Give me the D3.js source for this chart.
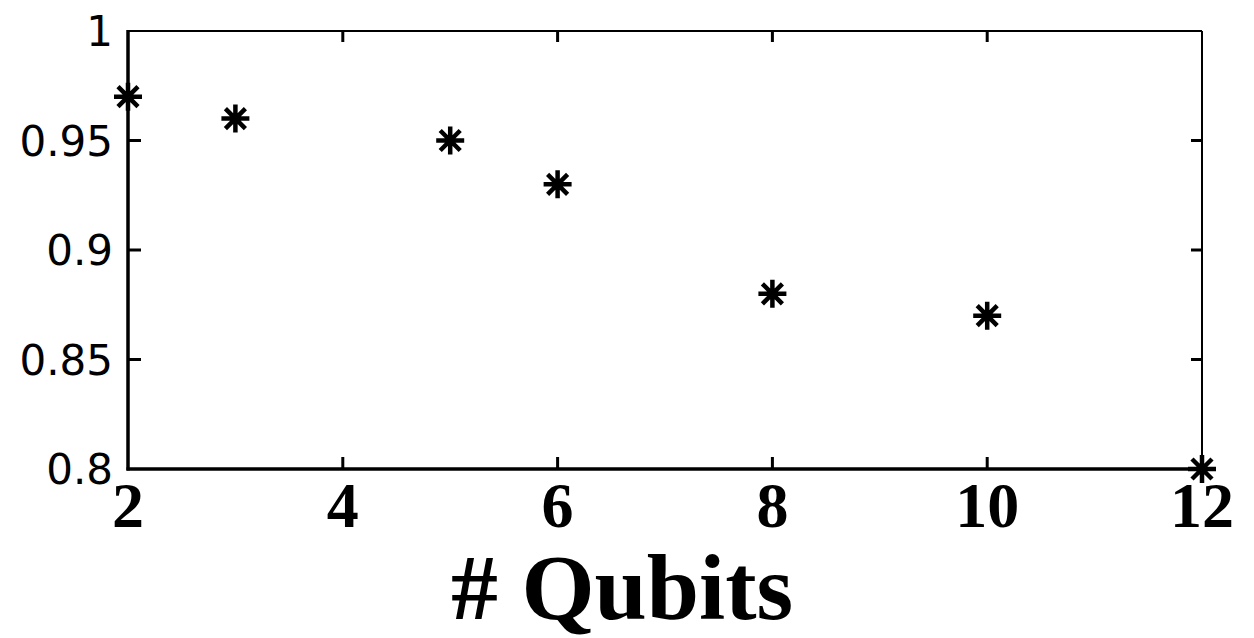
<!DOCTYPE html>
<html>
<head>
<meta charset="utf-8">
<script src="https://cdn.jsdelivr.net/npm/d3@7"></script>
<style>
  body { margin: 0; background: #fff; }
</style>
</head>
<body>
<svg id="chart" width="1254" height="638"></svg>
<script>
const qubits = [2, 3, 5, 6, 8, 10, 12]
const fidelity = [0.97, 0.96, 0.95, 0.93, 0.88, 0.87, 0.80]
const xTicks = [2, 4, 6, 8, 10, 12]
const yTicks = [0.8, 0.85, 0.9, 0.95, 1]
const yTickLabels = ['0.8', '0.85', '0.9', '0.95', '1']

const svg = d3.select('#chart')
const plotL = 128, plotR = 1202, plotT = 31, plotB = 469

const x = d3.scaleLinear().domain([2, 12]).range([plotL, plotR])
const y = d3.scaleLinear().domain([0.8, 1]).range([plotB, plotT])

// frame: left/bottom heavier than top/right
svg.append('line').attr('x1', plotL).attr('x2', plotR).attr('y1', plotT).attr('y2', plotT)
  .attr('stroke', '#000').attr('stroke-width', 2)
svg.append('line').attr('x1', plotR).attr('x2', plotR).attr('y1', plotT).attr('y2', plotB)
  .attr('stroke', '#000').attr('stroke-width', 2)
svg.append('line').attr('x1', plotL).attr('x2', plotL).attr('y1', plotT - 1).attr('y2', plotB + 1.5)
  .attr('stroke', '#000').attr('stroke-width', 3.5)
svg.append('line').attr('x1', plotL - 1.5).attr('x2', plotR).attr('y1', plotB).attr('y2', plotB)
  .attr('stroke', '#000').attr('stroke-width', 3.5)

// inward ticks
const innerX = xTicks.filter(d => d > 2 && d < 12)
const innerY = yTicks.filter(d => d > 0.8 && d < 1)
const tk = svg.append('g').attr('stroke', '#000').attr('stroke-width', 3)
innerX.forEach(d => {
  tk.append('line').attr('x1', x(d)).attr('x2', x(d)).attr('y1', plotB).attr('y2', plotB - 12)
  tk.append('line').attr('x1', x(d)).attr('x2', x(d)).attr('y1', plotT).attr('y2', plotT + 11)
})
innerY.forEach(d => {
  tk.append('line').attr('x1', plotL).attr('x2', plotL + 13).attr('y1', y(d)).attr('y2', y(d))
  tk.append('line').attr('x1', plotR).attr('x2', plotR - 11).attr('y1', y(d)).attr('y2', y(d))
})

// y tick labels
svg.append('g').selectAll('text')
  .data(yTicks)
  .join('text')
  .attr('x', 113)
  .attr('y', d => y(d))
  .attr('dy', '0.36em')
  .attr('text-anchor', 'end')
  .attr('font-family', 'DejaVu Sans, sans-serif')
  .attr('font-size', 42)
  .text((d, i) => yTickLabels[i])

// x tick labels
svg.append('g').selectAll('text')
  .data(xTicks)
  .join('text')
  .attr('x', d => x(d))
  .attr('y', 527)
  .attr('text-anchor', 'middle')
  .attr('font-family', 'Liberation Serif, Times New Roman, serif')
  .attr('font-weight', 'bold')
  .attr('font-size', 64)
  .text(d => d)

// x axis title
svg.append('text')
  .attr('x', 622)
  .attr('y', 619)
  .attr('text-anchor', 'middle')
  .attr('font-family', 'Liberation Serif, Times New Roman, serif')
  .attr('font-weight', 'bold')
  .attr('font-size', 94)
  .text('# Qubits')

// asterisk markers
const star = 'M0,-14V14M-14,0H14M-10,-10L10,10M-10,10L10,-10'
svg.append('g').selectAll('path')
  .data(qubits.map((q, i) => [q, fidelity[i]]))
  .join('path')
  .attr('transform', d => 'translate(' + x(d[0]) + ',' + y(d[1]) + ')')
  .attr('d', star)
  .attr('stroke', '#000')
  .attr('stroke-width', 4.5)
  .attr('fill', 'none')
</script>
</body>
</html>
